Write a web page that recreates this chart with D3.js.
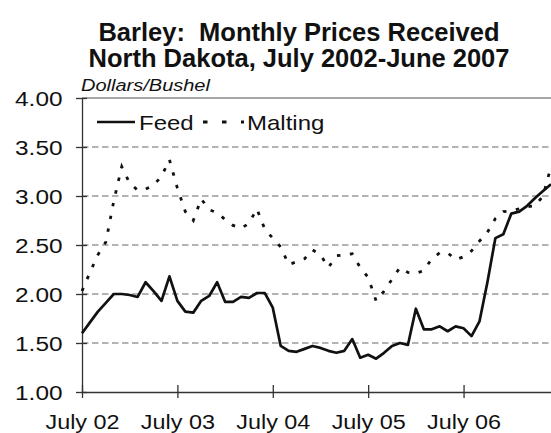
<!DOCTYPE html>
<html>
<head>
<meta charset="utf-8">
<script src="https://cdn.jsdelivr.net/npm/d3@7"></script>
<style>
body{margin:0;background:#fff;}
text{font-family:"Liberation Sans",Arial,sans-serif;fill:#111;}
</style>
</head>
<body>
<div id="chart"></div>
<script>
// monthly prices, July 2002 .. June 2007 (dollars / bushel)
var feedPrices = [1.60,1.71,1.82,1.91,2.00,2.00,1.99,1.97,2.12,2.03,
	1.93,2.18,1.93,1.82,1.81,1.93,1.98,2.12,1.92,1.92,
	1.97,1.96,2.01,2.01,1.86,1.47,1.42,1.41,1.44,1.47,
	1.45,1.42,1.40,1.42,1.54,1.35,1.38,1.34,1.40,1.47,
	1.50,1.48,1.85,1.64,1.64,1.67,1.62,1.67,1.65,1.57,
	1.72,2.12,2.57,2.61,2.82,2.84,2.90,2.98,3.05,3.12];
var maltingPrices = [2.03,2.22,2.40,2.53,2.95,3.30,3.13,3.06,3.07,3.11,
	3.20,3.37,3.08,2.84,2.75,2.97,2.86,2.83,2.76,2.70,
	2.67,2.72,2.87,2.66,2.57,2.48,2.30,2.33,2.36,2.45,
	2.40,2.27,2.39,2.40,2.41,2.27,2.17,1.93,2.03,2.15,
	2.27,2.22,2.21,2.24,2.36,2.42,2.42,2.35,2.38,2.44,
	2.54,2.63,2.77,2.84,2.85,2.87,2.89,2.90,3.00,3.30];
var tickMonths = [0,12,24,36,48];
var tickLabels = ["July 02","July 03","July 04","July 05","July 06"];
var yTicks = [1.00,1.50,2.00,2.50,3.00,3.50,4.00];
var gridValues = [1.50,2.00,2.50,3.00,3.50];

var width = 551, height = 433;
var plotLeft = 82, plotRight = 551, plotTop = 98, plotBottom = 392;

var svg = d3.select("#chart").append("svg")
	.attr("width", width)
	.attr("height", height);

var x = d3.scaleLinear().domain([0, feedPrices.length - 1]).range([plotLeft, plotRight]);
var y = d3.scaleLinear().domain([1, 4]).range([plotBottom, plotTop]);

// title
svg.append("text").attr("x", 299).attr("y", 41)
	.attr("text-anchor", "middle").style("font-size", "25.5px").style("font-weight", "bold")
	.style("white-space", "pre")
	.text("Barley:  Monthly Prices Received");
svg.append("text").attr("x", 299).attr("y", 67)
	.attr("text-anchor", "middle").style("font-size", "25.5px").style("font-weight", "bold")
	.text("North Dakota, July 2002-June 2007");
svg.append("text").attr("transform", "translate(81,91) scale(1.25,1)")
	.style("font-size", "16px").style("font-style", "italic")
	.text("Dollars/Bushel");

// grid
svg.append("g").selectAll("line")
	.data(gridValues)
	.enter()
	.append("line")
		.attr("x1", plotLeft).attr("x2", width)
		.attr("y1", d => y(d)).attr("y2", d => y(d))
		.attr("stroke", "#9a9a9a").attr("stroke-width", 1.7)
		.attr("stroke-dasharray", "6.5,3.5");
svg.append("line")
	.attr("x1", plotLeft).attr("x2", width)
	.attr("y1", y(4)).attr("y2", y(4))
	.attr("stroke", "#a5a5a5").attr("stroke-width", 2);

// axes
var yAxis = svg.append("g")
	.attr("transform", "translate(" + plotLeft + ",0)")
	.call(d3.axisLeft(y).tickValues(yTicks).tickFormat(d3.format(".2f")).tickSizeOuter(0));
yAxis.select(".domain").attr("stroke", "#333").attr("stroke-width", 1.3);
yAxis.selectAll(".tick line").attr("x1", 5).attr("x2", -6).attr("stroke", "#333").attr("stroke-width", 1.3);
yAxis.selectAll(".tick text")
	.attr("x", null).attr("dy", "0.36em")
	.attr("transform", "translate(-19.5,0) scale(1.25,1)")
	.style("font-size", "19.5px").style("font-family", "'Liberation Sans',Arial,sans-serif");

var xAxis = svg.append("g")
	.attr("transform", "translate(0," + plotBottom + ")")
	.call(d3.axisBottom(x).tickValues(tickMonths).tickFormat((d, i) => tickLabels[i]).tickSizeOuter(0));
xAxis.select(".domain").attr("stroke", "#333").attr("stroke-width", 1.3);
xAxis.selectAll(".tick line").attr("y1", -7).attr("y2", 6).attr("stroke", "#333").attr("stroke-width", 1.3);
xAxis.selectAll(".tick text")
	.attr("y", null).attr("dy", null)
	.attr("transform", "translate(0,37) scale(1.2,1)")
	.style("font-size", "19.5px").style("font-family", "'Liberation Sans',Arial,sans-serif");

// series
var line = d3.line().x((d, i) => x(i)).y(d => y(d));
svg.append("path").datum(maltingPrices)
	.attr("fill", "none").attr("stroke", "#111").attr("stroke-width", 2.8)
	.attr("stroke-dasharray", "3.5,9.5")
	.attr("d", line);
svg.append("path").datum(feedPrices)
	.attr("fill", "none").attr("stroke", "#111").attr("stroke-width", 2.7)
	.attr("stroke-linejoin", "round")
	.attr("d", line);

// legend
var legend = svg.append("g");
legend.append("line").attr("x1", 97).attr("x2", 135).attr("y1", 122).attr("y2", 122)
	.attr("stroke", "#111").attr("stroke-width", 2.7);
legend.append("text").attr("transform", "translate(139,129.5) scale(1.2,1)")
	.style("font-size", "20px").text("Feed");
legend.append("line").attr("x1", 203).attr("x2", 244).attr("y1", 122).attr("y2", 122)
	.attr("stroke", "#111").attr("stroke-width", 2.8).attr("stroke-dasharray", "4.5,14.5");
legend.append("text").attr("transform", "translate(247,129.5) scale(1.2,1)")
	.style("font-size", "20px").text("Malting");
</script>
</body>
</html>
